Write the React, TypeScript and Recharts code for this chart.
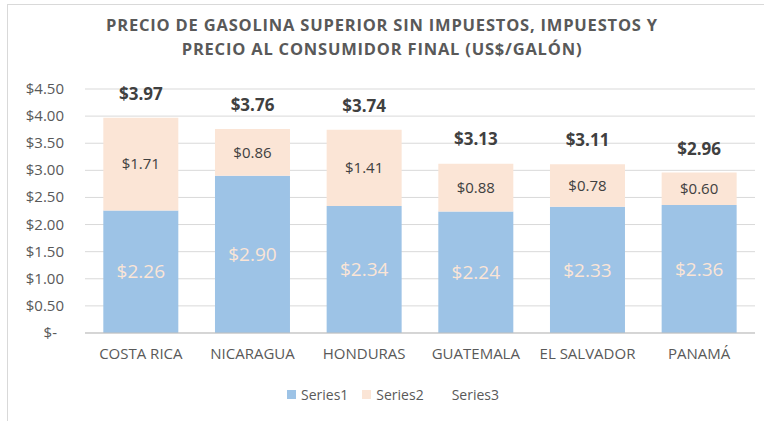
import { Bar, ComposedChart, CartesianGrid, LabelList, Line, XAxis, YAxis } from "recharts";

const countries = ["COSTA RICA", "NICARAGUA", "HONDURAS", "GUATEMALA", "EL SALVADOR", "PANAMÁ"];
const sinImpuestos = [2.26, 2.9, 2.34, 2.24, 2.33, 2.36];
const impuestos = [1.71, 0.86, 1.41, 0.88, 0.78, 0.6];
const precioFinal = [3.97, 3.76, 3.74, 3.13, 3.11, 2.96];
const yTicks = [0, 0.5, 1, 1.5, 2, 2.5, 3, 3.5, 4, 4.5];
const seriesNames = ["Series1", "Series2", "Series3"];

const data = countries.map((name, i) => ({
  name,
  s1: sinImpuestos[i],
  s2: impuestos[i],
  s3: precioFinal[i],
}));

const BLUE = "#9DC3E6";
const PEACH = "#FBE5D6";
const GRID = "#D9D9D9";
const TEXT = "#595959";
const DARK = "#404040";
const FONT = "'Open Sans', sans-serif";
// Series3 (the totals) has no visible fill, only its labels
const legendColors = [BLUE, PEACH, "transparent"];

const money = (v: number) => `$${v.toFixed(2)}`;

function YTick({ x, y, payload }: any) {
  const v = Number(payload.value);
  return (
    <text x={v === 0 ? x - 7 : x} y={y} dy={5} textAnchor="end" fill={TEXT} fontSize={15} fontFamily={FONT}>
      {v === 0 ? "$-" : money(v)}
    </text>
  );
}

function TotalLabel({ x, y, value }: any) {
  return (
    <text x={x} y={y - 18} textAnchor="middle" fill={DARK} fontSize={17} fontWeight="bold" fontFamily={FONT}>
      {money(Number(value))}
    </text>
  );
}

export default function App() {
  return (
    <div style={{ position: "absolute", left: 0, top: 0, width: 764, height: 421, background: "#fff", overflow: "hidden" }}>
      <div
        style={{
          position: "absolute",
          left: 7,
          top: 4,
          width: 800,
          height: 500,
          borderLeft: "1px solid #D9D9D9",
          borderTop: "1px solid #D9D9D9",
        }}
      />
      <div
        style={{
          position: "absolute",
          left: 0,
          width: 764,
          top: 13,
          textAlign: "center",
          fontFamily: FONT,
          fontWeight: "bold",
          fontSize: 16.5,
          lineHeight: "24px",
          letterSpacing: 0.8,
          color: TEXT,
        }}
      >
        PRECIO DE GASOLINA SUPERIOR SIN IMPUESTOS, IMPUESTOS Y
        <br />
        PRECIO AL CONSUMIDOR FINAL (US$/GALÓN)
      </div>
      <div style={{ position: "absolute", left: 0, top: 0 }}>
        <ComposedChart
          width={764}
          height={421}
          data={data}
          margin={{ top: 89, right: 9, bottom: 58, left: 0 }}
          barCategoryGap="16.4%"
        >
          <CartesianGrid stroke={GRID} vertical={false} />
          <XAxis
            dataKey="name"
            height={30}
            axisLine={{ stroke: "#BFBFBF" }}
            tickLine={false}
            tickSize={0}
            tickMargin={15}
            tick={{ fill: TEXT, fontSize: 15, fontFamily: FONT }}
            interval={0}
          />
          <YAxis
            width={85}
            domain={[0, 4.5]}
            ticks={yTicks}
            interval={0}
            axisLine={false}
            tickLine={false}
            tickSize={0}
            tickMargin={21}
            tick={<YTick />}
          />
          <Bar dataKey="s1" name="Series1" stackId="a" fill={BLUE} isAnimationActive={false}>
            <LabelList
              dataKey="s1"
              position="center"
              formatter={(v: any) => money(Number(v))}
              fill={PEACH}
              fontSize={19}
              fontFamily={FONT}
            />
          </Bar>
          <Bar dataKey="s2" name="Series2" stackId="a" fill={PEACH} isAnimationActive={false}>
            <LabelList
              dataKey="s2"
              position="center"
              formatter={(v: any) => money(Number(v))}
              fill={DARK}
              fontSize={15}
              fontFamily={FONT}
            />
          </Bar>
          <Line dataKey="s3" name="Series3" stroke="none" dot={false} activeDot={false} isAnimationActive={false}>
            <LabelList dataKey="s3" content={<TotalLabel />} />
          </Line>
        </ComposedChart>
      </div>
      <div
        style={{
          position: "absolute",
          left: 0,
          width: 764,
          top: 385,
          display: "flex",
          justifyContent: "center",
          gap: 14,
          paddingLeft: 22,
          boxSizing: "border-box",
          fontFamily: FONT,
          fontSize: 14,
          color: TEXT,
        }}
      >
        {seriesNames.map((n, i) => (
          <span key={n} style={{ display: "flex", alignItems: "center" }}>
            <span style={{ display: "inline-block", width: 9, height: 9, marginRight: 5, background: legendColors[i] }} />
            {n}
          </span>
        ))}
      </div>
    </div>
  );
}
